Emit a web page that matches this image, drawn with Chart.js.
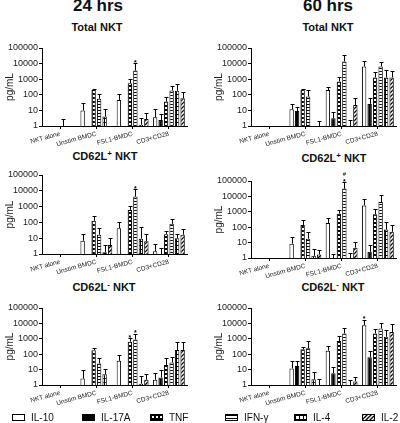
<!DOCTYPE html>
<html><head><meta charset="utf-8">
<script src="https://cdn.jsdelivr.net/npm/chart.js@4"></script>
<style>
html,body{margin:0;padding:0;background:#fff;}
#wrap{position:relative;width:400px;height:423px;overflow:hidden;font-family:"Liberation Sans",Arial,sans-serif;color:#111;}
canvas{position:absolute;}
.t{position:absolute;font-weight:bold;transform:translateX(-50%);white-space:nowrap;}
.big{font-size:17px;line-height:17px;}
.sub{font-size:11px;line-height:11px;}
.sub sup{font-size:8px;line-height:0;vertical-align:4px;}
.sw{position:absolute;width:11px;height:5px;border:1.5px solid #000;background-repeat:repeat;}
.lt{position:absolute;font-size:10px;line-height:10px;color:#111;white-space:nowrap;}
</style></head>
<body><div id="wrap">
<div class="t big" style="left:98px;top:-3px">24 hrs</div>
<div class="t big" style="left:328px;top:-3px">60 hrs</div>
<div class="t sub" style="left:97px;top:22px">Total NKT</div>
<div class="t sub" style="left:328px;top:22px">Total NKT</div>
<div class="t sub" style="left:105px;top:151px">CD62L<sup>+</sup> NKT</div>
<div class="t sub" style="left:334px;top:153px">CD62L<sup>+</sup> NKT</div>
<div class="t sub" style="left:104px;top:282px">CD62L<sup>-</sup> NKT</div>
<div class="t sub" style="left:333px;top:282px">CD62L<sup>-</sup> NKT</div>
</div>
<script>
const categories = ['NKT alone', 'Unstim BMDC', 'FSL1-BMDC', 'CD3+CD28'];
const seriesNames = ['IL-10', 'IL-17A', 'TNF', 'IFN-\u03b3', 'IL-4', 'IL-2'];
const yTicks = [1, 10, 100, 1000, 10000, 100000];

// rows: IL-10, IL-17A, TNF, IFN-g, IL-4, IL-2 ; columns: categories
const total24Val = [[1,10,47,3.6],[1,1,1,2.4],[1,200,560,37],[1,55,3600,190],[1,4,1.2,180],[1,1,2.8,60]];
const total24Err = [[null,29,110,12],[null,null,null,6],[null,240,1050,77],[3,110,10700,380],[null,12,3.3,520],[null,null,7,160]];
const total24Marks = [[3,2,'*']];

const total60Val = [[1,12,200,6600],[1,9,3.1,26],[1,210,710,1300],[1,78,13700,6600],[1,1,1,1300],[1,1,22,1300]];
const total60Err = [[null,26,300,14000],[null,16,8,66],[null,250,1300,2800],[null,210,37000,12500],[null,null,2.4,4000],[null,2.2,60,3600]];
const total60Marks = [];

const pos24Val = [[1,6.9,43,1.5],[1,1,1,1],[1,126,620,18],[1,16.5,4300,81],[1,1.3,9.3,10],[1,3.7,6.3,16.5]];
const pos24Err = [[null,19,100,4.5],[null,null,null,2.4],[null,250,1100,27],[null,43,12400,170],[null,3.8,48,19],[null,10,19,38]];
const pos24Marks = [[3,2,'*']];

const pos60Val = [[1,8.5,190,2600],[1,1,1,2.5],[1,140,760,690],[1,18,32000,4300],[1,1.4,1,70],[1,1.7,4.7,50]];
const pos60Err = [[null,23,400,7000],[null,null,1.9,7.4],[null,280,1370,1600],[null,51,85000,11700],[null,3.7,2.1,220],[null,3.5,11,130]];
const pos60Marks = [[3,2,'*'],[3,2,'#']];

const neg24Val = [[1,2.6,37,2.2],[1,1,1,3.1],[1,180,650,20],[1,25,910,29],[1,5,1.2,190],[1,1,2.2,190]];
const neg24Err = [[null,8.8,90,5.9],[null,null,null,9.7],[null,260,1060,55],[null,55,2200,63],[null,11,3.6,590],[null,null,5.4,590]];
const neg24Marks = [[2,2,'*'],[3,2,'*']];

const neg60Val = [[1,12,170,7700],[1,17,5.9,63],[1,210,720,2200],[1,240,2200,4700],[1,2.4,1,1370],[1,1,1.7,2800]];
const neg60Err = [[null,37,360,17700],[null,37,14,160],[null,310,1500,4300],[null,720,4700,11000],[null,6.5,2.2,4000],[null,2.4,3.1,9800]];
const neg60Marks = [[0,3,'*']];

const FONT = '"Liberation Sans", Arial, sans-serif';
Chart.defaults.font.family = FONT;
Chart.defaults.color = '#222';

function tile(w, h, draw) { const c = document.createElement('canvas'); c.width = w; c.height = h; const g = c.getContext('2d'); draw(g); return c; }
const tiles = [
  tile(4,4,g=>{g.fillStyle='#fff';g.fillRect(0,0,4,4);}),
  tile(4,4,g=>{g.fillStyle='#000';g.fillRect(0,0,4,4);}),
  tile(4,4,g=>{g.fillStyle='#000';g.fillRect(0,0,4,4);g.fillStyle='#fff';g.fillRect(1,1,2,2);}),
  tile(4,3,g=>{g.fillStyle='#fff';g.fillRect(0,0,4,3);g.fillStyle='#000';g.fillRect(0,0,4,1);}),
  tile(4,4,g=>{g.fillStyle='#fff';g.fillRect(0,0,4,4);g.fillStyle='#000';g.fillRect(0,0,4,1);g.fillRect(0,0,1,4);}),
  tile(4,4,g=>{g.fillStyle='#fff';g.fillRect(0,0,4,4);g.strokeStyle='#000';g.lineWidth=1.3;
    g.beginPath();g.moveTo(-1,5);g.lineTo(5,-1);g.moveTo(-1,1);g.lineTo(1,-1);g.moveTo(3,5);g.lineTo(5,3);g.stroke();})
];

const errPlugin = {
  id: 'err',
  afterDatasetsDraw(chart, args, opts) {
    const ctx = chart.ctx, y = chart.scales.y;
    ctx.save();
    ctx.strokeStyle = '#000'; ctx.lineWidth = 1;
    opts.errs.forEach((row, i) => {
      const meta = chart.getDatasetMeta(i);
      row.forEach((e, j) => {
        if (e == null) return;
        const x = Math.round(meta.data[j].x) + 0.5;
        const y0 = y.getPixelForValue(chart.data.datasets[i].data[j]);
        const y1 = Math.round(y.getPixelForValue(e)) + 0.5;
        ctx.beginPath(); ctx.moveTo(x, y0); ctx.lineTo(x, y1);
        ctx.moveTo(x - 2, y1); ctx.lineTo(x + 2, y1); ctx.stroke();
      });
    });
    ctx.fillStyle = '#000'; ctx.textAlign = 'center'; ctx.textBaseline = 'bottom';
    const count = {};
    opts.marks.forEach(([i, j, s]) => {
      const key = i + '_' + j; const k = count[key] || 0; count[key] = k + 1;
      const x = chart.getDatasetMeta(i).data[j].x;
      const e = opts.errs[i][j] != null ? opts.errs[i][j] : chart.data.datasets[i].data[j];
      const yy = y.getPixelForValue(e) - 1 - k * 4;
      ctx.font = (s === '#' ? '6px ' : 'bold 7px ') + FONT;
      ctx.fillText(s, x, yy + (s === '*' ? 4 : 0));
    });
    ctx.restore();
  }
};

const wrap = document.getElementById('wrap');
const panels = [
  {vals: total24Val, errs: total24Err, marks: total24Marks, area: {l:42, r:187, t:48, b:126}},
  {vals: total60Val, errs: total60Err, marks: total60Marks, area: {l:251, r:396, t:48, b:126}},
  {vals: pos24Val, errs: pos24Err, marks: pos24Marks, area: {l:42, r:187, t:175, b:254}},
  {vals: pos60Val, errs: pos60Err, marks: pos60Marks, area: {l:251, r:396, t:181, b:258}},
  {vals: neg24Val, errs: neg24Err, marks: neg24Marks, area: {l:42, r:187, t:308, b:385}},
  {vals: neg60Val, errs: neg60Err, marks: neg60Marks, area: {l:251, r:396, t:308, b:385}}
];

function makeChart(p) {
  const YA = 42, PT = 10, PR = 4, XA = 30;
  const left = p.area.l - YA, top = p.area.t - PT;
  const w = p.area.r + PR - left, h = p.area.b + XA - top;
  const cv = document.createElement('canvas');
  cv.width = w; cv.height = h;
  cv.style.left = left + 'px'; cv.style.top = top + 'px';
  cv.style.width = w + 'px'; cv.style.height = h + 'px';
  wrap.appendChild(cv);
  const g = cv.getContext('2d');
  const datasets = seriesNames.map((n, i) => ({
    label: n, data: p.vals[i],
    backgroundColor: g.createPattern(tiles[i], 'repeat'),
    borderColor: '#000',
    borderWidth: c => (c.raw > 1 ? 1 : 0),
    categoryPercentage: 0.91, barPercentage: 0.8
  }));
  new Chart(g, {
    type: 'bar',
    data: {labels: categories, datasets},
    options: {
      responsive: false, animation: false, devicePixelRatio: 1,
      layout: {padding: {top: PT, right: PR, left: 0, bottom: 0}},
      plugins: {legend: {display: false}, tooltip: {enabled: false}, err: {errs: p.errs, marks: p.marks}},
      scales: {
        x: {
          grid: {display: true, drawOnChartArea: false, drawTicks: true, tickLength: 3, offset: false, color: '#000'},
          border: {display: true, color: '#000', width: 1},
          ticks: {font: {size: 6.5}, color: '#222', maxRotation: 15, minRotation: 15, autoSkip: false, padding: 1},
          afterFit(s) { s.height = XA; }
        },
        y: {
          type: 'logarithmic', min: 1, max: 100000,
          afterBuildTicks(s) { s.ticks = yTicks.map(v => ({value: v})); },
          grid: {display: true, drawOnChartArea: false, drawTicks: true, tickLength: 3, color: '#000'},
          border: {display: true, color: '#000', width: 1},
          ticks: {font: {size: 9}, color: '#222', padding: 1, callback: v => String(v), autoSkip: false},
          title: {display: true, text: 'pg/mL', font: {size: 10}, color: '#222', padding: {top: 4, bottom: 0}},
          afterFit(s) { s.width = YA; }
        }
      }
    },
    plugins: [errPlugin]
  });
}
panels.forEach(makeChart);

// legend
const legendX = [12, 82, 150, 225, 294, 362];
seriesNames.forEach((n, i) => {
  const sw = document.createElement('div');
  sw.className = 'sw';
  sw.style.left = legendX[i] + 'px'; sw.style.top = '414px';
  sw.style.backgroundImage = 'url(' + tiles[i].toDataURL() + ')';
  wrap.appendChild(sw);
  const t = document.createElement('div');
  t.className = 'lt'; t.textContent = n;
  t.style.left = (legendX[i] + 19) + 'px'; t.style.top = '413px';
  wrap.appendChild(t);
});
</script>
</body></html>
